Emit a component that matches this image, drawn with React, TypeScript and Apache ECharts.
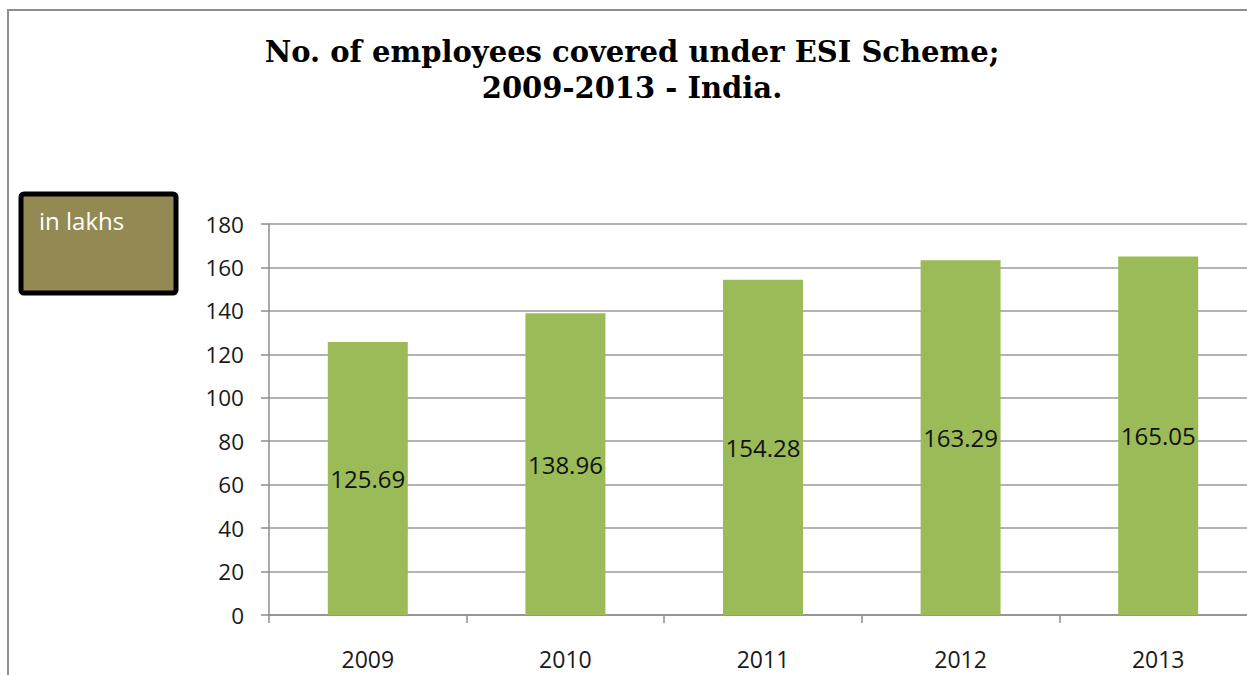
import React, { useEffect, useRef } from "react";
import * as echarts from "echarts";

const categories = ["2009", "2010", "2011", "2012", "2013"];
const values = [125.69, 138.96, 154.28, 163.29, 165.05];
const titleLines = ["No. of employees covered under ESI Scheme;", "2009-2013 - India."];
const unitLabel = "in lakhs";

export default function App() {
  const ref = useRef<HTMLDivElement>(null);
  useEffect(() => {
    const chart = echarts.init(ref.current!, null, { renderer: "svg" });
    chart.setOption({
      animation: false,
      backgroundColor: "#ffffff",
      grid: { left: 269, top: 224, width: 988, height: 391, outerBoundsMode: "none", containLabel: false },
      xAxis: {
        type: "category",
        data: categories,
        axisLine: { lineStyle: { color: "#8c8c8c", width: 1.5 } },
        axisTick: { show: true, length: 8, alignWithLabel: false, lineStyle: { color: "#8c8c8c", width: 1.5 } },
        axisLabel: { margin: 32, fontSize: 23, color: "#1a1a1a", fontFamily: "Open Sans" },
      },
      yAxis: {
        type: "value",
        min: 0,
        max: 180,
        interval: 20,
        axisLine: { show: true, lineStyle: { color: "#8c8c8c", width: 1.5 } },
        axisTick: { show: true, length: 8, inside: false, lineStyle: { color: "#8c8c8c", width: 1.5 } },
        splitLine: { lineStyle: { color: "#9a9a9a", width: 1.5 } },
        axisLabel: { margin: 25, fontSize: 22.5, color: "#1a1a1a", fontFamily: "Open Sans" },
      },
      series: [
        {
          type: "bar",
          data: values,
          barWidth: 80,
          itemStyle: { color: "#9bbb59" },
          label: {
            show: true,
            position: "inside",
            fontSize: 24,
            color: "#111",
            fontFamily: "Open Sans",
            formatter: (p: any) => p.value.toFixed(2),
          },
        },
      ],
      graphic: [
        {
          type: "rect",
          shape: { x: 8, y: 10, width: 1300, height: 700 },
          style: { fill: "none", stroke: "#8f8f8f", lineWidth: 2 },
          silent: true,
        },
        {
          type: "text",
          x: 632,
          y: 34,
          style: {
            text: titleLines.join("\n"),
            align: "center",
            verticalAlign: "top",
            fontSize: 29,
            fontWeight: "bold",
            fontFamily: "DejaVu Serif",
            lineHeight: 36,
            fill: "#000",
          },
        },
        {
          type: "rect",
          shape: { x: 21, y: 194, width: 155, height: 99, r: 3 },
          style: { fill: "#938953", stroke: "#000", lineWidth: 5 },
        },
        {
          type: "text",
          x: 39,
          y: 208,
          style: {
            text: unitLabel,
            fontSize: 24,
            fontFamily: "Open Sans",
            fill: "#ffffff",
            verticalAlign: "top",
          },
        },
      ],
    });
    return () => chart.dispose();
  }, []);
  return <div ref={ref} style={{ position: "fixed", left: 0, top: 0, width: 1247, height: 675 }} />;
}
